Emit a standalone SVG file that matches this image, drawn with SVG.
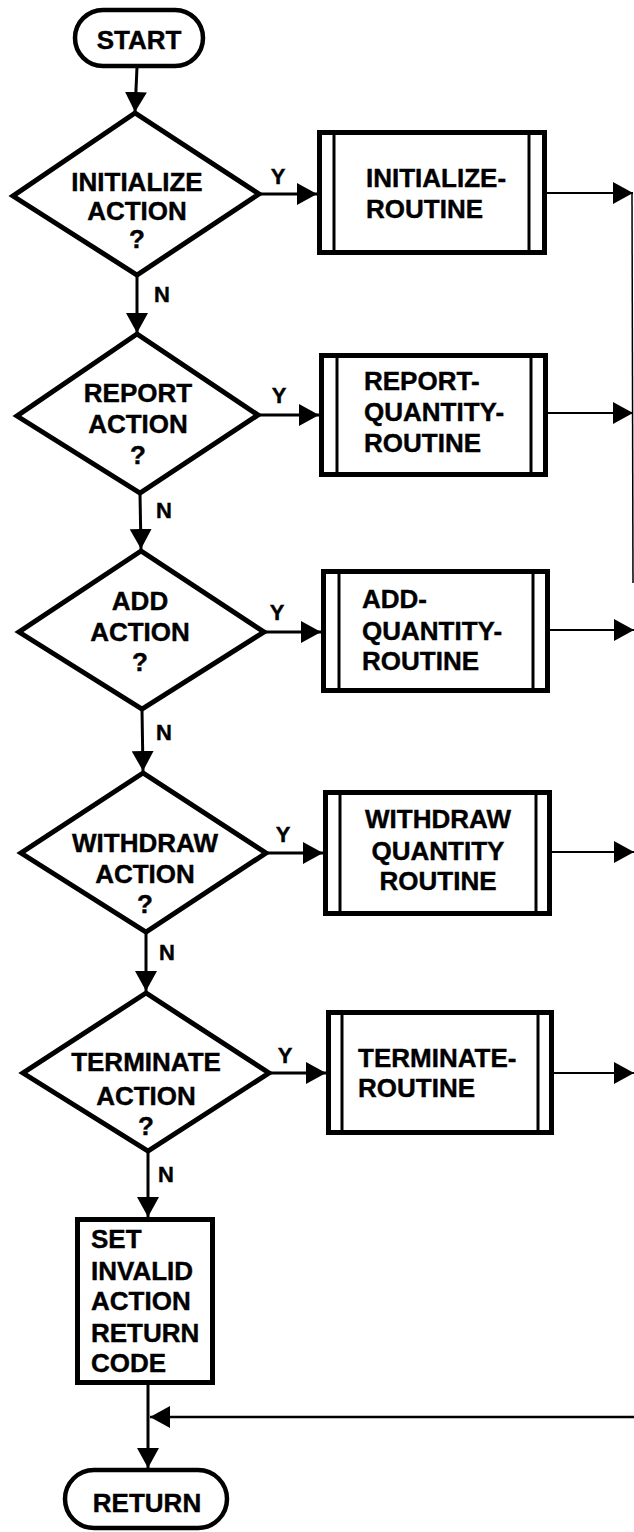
<svg xmlns="http://www.w3.org/2000/svg" width="634" height="1532" viewBox="0 0 634 1532">
  <style>
    .shape { fill: #ffffff; stroke: #000000; stroke-width: 5; stroke-linejoin: miter; }
    .term { fill: #ffffff; stroke: #000000; stroke-width: 4.5; }
    .bar { stroke: #000000; stroke-width: 3; }
    .flow { fill: none; stroke: #000000; stroke-width: 3; }
    .exit { fill: none; stroke: #000000; stroke-width: 2; }
    .back { fill: none; stroke: #000000; stroke-width: 1.5; }
    text { font-family: "Liberation Sans", Arial, Helvetica, sans-serif; font-weight: bold; font-size: 26px; fill: #000000; stroke: #000000; stroke-width: 0.4; }
    .mid { text-anchor: middle; }
    .lbl { font-size: 22px; text-anchor: middle; }
  </style>
  <defs>
    <marker id="arrow" viewBox="0 0 20 22" refX="20" refY="11" markerWidth="20" markerHeight="22" markerUnits="userSpaceOnUse" orient="auto">
      <path d="M0,0 L20,11 L0,22 Z" fill="#000000"/>
    </marker>
  </defs>

  <!-- connectors -->
  <g id="connectors">
    <!-- main vertical spine -->
    <path class="flow" d="M137,67 L135,112" marker-end="url(#arrow)"/>
    <path class="flow" d="M137,276 L137,333" marker-end="url(#arrow)"/>
    <path class="flow" d="M140,494 L141,549" marker-end="url(#arrow)"/>
    <path class="flow" d="M142,710 L143,771" marker-end="url(#arrow)"/>
    <path class="flow" d="M146,933 L146,991" marker-end="url(#arrow)"/>
    <path class="flow" d="M148,1152 L148,1217" marker-end="url(#arrow)"/>
    <path class="flow" d="M148,1385 L148,1468" marker-end="url(#arrow)"/>
    <!-- yes branches -->
    <path class="flow" d="M260,194 L317,194" marker-end="url(#arrow)"/>
    <path class="flow" d="M259,415 L319,415" marker-end="url(#arrow)"/>
    <path class="flow" d="M265,632 L321,632" marker-end="url(#arrow)"/>
    <path class="flow" d="M267,853 L323,853" marker-end="url(#arrow)"/>
    <path class="flow" d="M270,1073 L326,1073" marker-end="url(#arrow)"/>
    <!-- routine exits -->
    <path class="exit" d="M547,193 L633,193" marker-end="url(#arrow)"/>
    <path class="exit" d="M548,413 L633,413" marker-end="url(#arrow)"/>
    <path class="exit" d="M550,630 L634,630" marker-end="url(#arrow)"/>
    <path class="exit" d="M552,852 L634,852" marker-end="url(#arrow)"/>
    <path class="exit" d="M554,1073 L634,1073" marker-end="url(#arrow)"/>
    <!-- collector on the right edge -->
    <path class="back" d="M632,193 L633,583"/>
    <!-- return path into the spine -->
    <path class="exit" d="M634,1417 L150,1417" marker-end="url(#arrow)" style="stroke-width:2.5"/>
    <!-- branch labels -->
    <text class="lbl" x="278" y="184">Y</text>
    <text class="lbl" x="279" y="403">Y</text>
    <text class="lbl" x="277" y="620">Y</text>
    <text class="lbl" x="283" y="842">Y</text>
    <text class="lbl" x="285" y="1063">Y</text>
    <text class="lbl" x="162" y="302">N</text>
    <text class="lbl" x="164" y="518">N</text>
    <text class="lbl" x="164" y="740">N</text>
    <text class="lbl" x="167" y="960">N</text>
    <text class="lbl" x="166" y="1182">N</text>
  </g>

  <g id="start">
    <rect class="term" x="75" y="10" width="128" height="56" rx="28"/>
    <text class="mid" x="139" y="49">START</text>
  </g>

  <g id="dec-initialize">
    <polygon class="shape" points="135,113 13,196 137,275 259,194"/>
    <text class="mid" x="137" y="191">INITIALIZE</text>
    <text class="mid" x="137" y="220">ACTION</text>
    <text class="mid" x="137" y="248">?</text>
  </g>

  <g id="initialize-routine">
    <rect class="shape" x="319.5" y="132.5" width="225" height="120"/>
    <line class="bar" x1="334" y1="133" x2="334" y2="252"/>
    <line class="bar" x1="529" y1="133" x2="529" y2="252"/>
    <text x="366" y="187">INITIALIZE-</text>
    <text x="366" y="218">ROUTINE</text>
  </g>

  <g id="dec-report">
    <polygon class="shape" points="137,334 17,416 140,493 258,415"/>
    <text class="mid" x="138" y="402">REPORT</text>
    <text class="mid" x="138" y="433">ACTION</text>
    <text class="mid" x="138" y="464">?</text>
  </g>

  <g id="report-quantity-routine">
    <rect class="shape" x="321.5" y="355.5" width="224" height="119"/>
    <line class="bar" x1="337" y1="356" x2="337" y2="474"/>
    <line class="bar" x1="531" y1="356" x2="531" y2="474"/>
    <text x="364" y="390">REPORT-</text>
    <text x="364" y="421">QUANTITY-</text>
    <text x="364" y="452">ROUTINE</text>
  </g>

  <g id="dec-add">
    <polygon class="shape" points="141,551 19,632 142,709 264,632"/>
    <text class="mid" x="140" y="610">ADD</text>
    <text class="mid" x="140" y="641">ACTION</text>
    <text class="mid" x="140" y="671">?</text>
  </g>

  <g id="add-quantity-routine">
    <rect class="shape" x="323.5" y="571.5" width="224" height="119"/>
    <line class="bar" x1="339" y1="572" x2="339" y2="690"/>
    <line class="bar" x1="533" y1="572" x2="533" y2="690"/>
    <text x="362" y="608">ADD-</text>
    <text x="362" y="640">QUANTITY-</text>
    <text x="362" y="670">ROUTINE</text>
  </g>

  <g id="dec-withdraw">
    <polygon class="shape" points="143,773 21,853 146,932 266,853"/>
    <text class="mid" x="145" y="852">WITHDRAW</text>
    <text class="mid" x="145" y="883">ACTION</text>
    <text class="mid" x="145" y="913">?</text>
  </g>

  <g id="withdraw-quantity-routine">
    <rect class="shape" x="325.5" y="792.5" width="224" height="121"/>
    <line class="bar" x1="340" y1="793" x2="340" y2="913"/>
    <line class="bar" x1="536" y1="793" x2="536" y2="913"/>
    <text class="mid" x="438" y="828">WITHDRAW</text>
    <text class="mid" x="438" y="860">QUANTITY</text>
    <text class="mid" x="438" y="890">ROUTINE</text>
  </g>

  <g id="dec-terminate">
    <polygon class="shape" points="146,993 23,1073 148,1151 269,1073"/>
    <text class="mid" x="146" y="1071">TERMINATE</text>
    <text class="mid" x="146" y="1105">ACTION</text>
    <text class="mid" x="146" y="1135">?</text>
  </g>

  <g id="terminate-routine">
    <rect class="shape" x="328.5" y="1012.5" width="223" height="120"/>
    <line class="bar" x1="342" y1="1013" x2="342" y2="1132"/>
    <line class="bar" x1="538" y1="1013" x2="538" y2="1132"/>
    <text x="358" y="1067">TERMINATE-</text>
    <text x="358" y="1097">ROUTINE</text>
  </g>

  <g id="set-invalid">
    <rect class="shape" x="77.5" y="1219.5" width="135" height="163"/>
    <text x="91" y="1248">SET</text>
    <text x="91" y="1280">INVALID</text>
    <text x="91" y="1310">ACTION</text>
    <text x="91" y="1342">RETURN</text>
    <text x="91" y="1372">CODE</text>
  </g>

  <g id="return">
    <rect class="term" x="65" y="1470" width="162" height="58" rx="29"/>
    <text class="mid" x="147" y="1512">RETURN</text>
  </g>
</svg>
